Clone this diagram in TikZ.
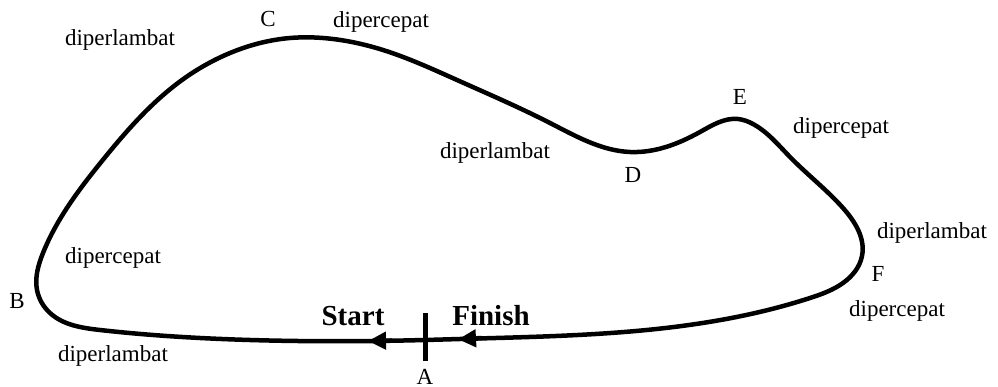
\documentclass[tikz,border=0pt]{standalone}
\usepackage{fontspec}
\setmainfont{Liberation Serif}
\usetikzlibrary{arrows.meta,hobby}
\begin{document}
\begin{tikzpicture}[x=1pt,y=-1pt,
  track/.style={line width=4.5pt,line join=round},
  lbl/.style={anchor=base,inner sep=0pt,font=\fontsize{23}{26}\selectfont},
  big/.style={anchor=base,inner sep=0pt,font=\fontsize{29}{32}\selectfont\bfseries},
  tip/.style={line width=4.5pt,-{Triangle[length=18pt,width=17pt]}}]
\useasboundingbox (0,0) rectangle (998,387);
\draw[track,use Hobby shortcut,closed=true]
  (425,340) .. (250,340) .. (100,330) .. (50,313) .. (37,290) .. (43,253)
  .. (102,161) .. (182,80) .. (230,53) .. (290,38) .. (333,39)
  .. (383,50) .. (457,80) .. (550,123) .. (630,152) .. (700,132)
  .. (738,119) .. (753,124) .. (790,157) .. (843,208) .. (862,256)
  .. (843,283) .. (810,298) .. (460,339);
\coordinate (s1) at (392,340.6);
\coordinate (s2) at (368,341);
\coordinate (f1) at (482,338);
\coordinate (f2) at (458,339.3);
\draw[tip] (s1) -- (s2);
\draw[tip] (f1) -- (f2);
\coordinate (t1) at (425,313);
\coordinate (t2) at (425,361);
\draw[line width=5pt] (t1) -- (t2);
\node[lbl] (lC) at (268,27) {C};
\node[lbl] (lcp1) at (381,28) {dipercepat};
\node[lbl] (lpl1) at (120,46) {diperlambat};
\node[lbl] (lE) at (740,105) {E};
\node[lbl] (lcp2) at (841,134) {dipercepat};
\node[lbl] (lpl2) at (495,159) {diperlambat};
\node[lbl] (lD) at (633,183) {D};
\node[lbl] (lpl3) at (932,239) {diperlambat};
\node[lbl] (lF) at (878,282) {F};
\node[lbl] (lcp3) at (897,316) {dipercepat};
\node[lbl] (lcp4) at (113,264) {dipercepat};
\node[lbl] (lB) at (17,308) {B};
\node[lbl] (lpl4) at (113,361) {diperlambat};
\node[big] (lS) at (353,325) {Start};
\node[big] (lFi) at (491,325) {Finish};
\node[lbl] (lA) at (425,384) {A};
\end{tikzpicture}
\end{document}
